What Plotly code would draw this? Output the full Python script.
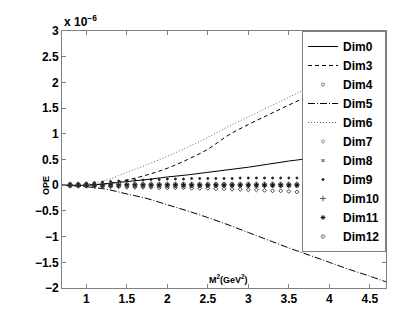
import plotly.graph_objects as go

# ---------------- data (OPE values in units of 1e-6) ----------------
m_line = [0.7, 1.0, 1.25, 1.5, 1.75, 2.0, 2.25, 2.5, 2.75, 3.0, 3.25, 3.5, 3.75, 4.0, 4.25, 4.5, 4.7]
dim0 = [0.0, 0.0, 0.03, 0.07, 0.11, 0.16, 0.20, 0.25, 0.30, 0.35, 0.41, 0.47, 0.52, 0.58, 0.64, 0.70, 0.75]
dim3 = [0.0, 0.0, 0.03, 0.10, 0.20, 0.33, 0.50, 0.70, 0.97, 1.18, 1.37, 1.56, 1.74, 1.92, 2.10, 2.27, 2.40]
dim5 = [0.0, -0.03, -0.08, -0.17, -0.26, -0.38, -0.50, -0.63, -0.77, -0.92, -1.07, -1.22, -1.36, -1.50, -1.64, -1.77, -1.88]
dim6 = [0.0, 0.02, 0.10, 0.25, 0.40, 0.56, 0.74, 0.93, 1.14, 1.33, 1.52, 1.71, 1.90, 2.09, 2.27, 2.45, 2.60]

m_pts = [0.8, 0.9, 1.0, 1.1, 1.2, 1.3, 1.4, 1.5, 1.6, 1.7,
         1.8, 1.9, 2.0, 2.1, 2.2, 2.3, 2.4, 2.5, 2.6, 2.7,
         2.8, 2.9, 3.0, 3.1, 3.2, 3.3, 3.4, 3.5, 3.6, 3.7,
         3.8, 3.9, 4.0, 4.1, 4.2, 4.3, 4.4, 4.5, 4.6, 4.7]
dim4 = [0.03, 0.03, 0.03, 0.03, 0.03, 0.03, 0.03, 0.03, 0.03, 0.03,
        0.03, 0.03, 0.03, 0.03, 0.03, 0.03, 0.03, 0.03, 0.03, 0.03,
        0.03, 0.03, 0.03, 0.03, 0.03, 0.03, 0.03, 0.03, 0.03, 0.03,
        0.03, 0.03, 0.03, 0.03, 0.03, 0.03, 0.03, 0.03, 0.03, 0.03]
dim7 = [-0.02, -0.02, -0.02, -0.02, -0.02, -0.02, -0.02, -0.02, -0.02, -0.02,
        -0.02, -0.02, -0.02, -0.02, -0.02, -0.02, -0.02, -0.02, -0.02, -0.02,
        -0.02, -0.02, -0.02, -0.02, -0.02, -0.02, -0.02, -0.02, -0.02, -0.02,
        -0.02, -0.02, -0.02, -0.02, -0.02, -0.02, -0.02, -0.02, -0.02, -0.02]
dim8 = [0.0, 0.0, 0.0, 0.0, 0.0, 0.0, 0.0, 0.0, 0.0, 0.0,
        0.0, 0.0, 0.0, 0.0, 0.0, 0.0, 0.0, 0.0, 0.0, 0.0,
        0.0, 0.0, 0.0, 0.0, 0.0, 0.0, 0.0, 0.0, 0.0, 0.0,
        0.0, 0.0, 0.0, 0.0, 0.0, 0.0, 0.0, 0.0, 0.0, 0.0]
dim9 = [0.02, 0.03, 0.04, 0.05, 0.06, 0.07, 0.08, 0.09, 0.10, 0.10,
        0.11, 0.11, 0.12, 0.12, 0.12, 0.13, 0.13, 0.13, 0.13, 0.13,
        0.13, 0.14, 0.14, 0.14, 0.14, 0.14, 0.14, 0.14, 0.14, 0.14,
        0.14, 0.14, 0.14, 0.14, 0.14, 0.14, 0.14, 0.14, 0.14, 0.14]
dim10 = [0.01, 0.01, 0.01, 0.01, 0.01, 0.01, 0.01, 0.01, 0.01, 0.01,
         0.01, 0.01, 0.01, 0.01, 0.01, 0.01, 0.01, 0.01, 0.01, 0.01,
         0.01, 0.01, 0.01, 0.01, 0.01, 0.01, 0.01, 0.01, 0.01, 0.01,
         0.01, 0.01, 0.01, 0.01, 0.01, 0.01, 0.01, 0.01, 0.01, 0.01]
dim11 = [0.0, 0.0, 0.0, 0.0, 0.0, 0.0, 0.0, 0.0, 0.0, 0.0,
         0.0, 0.0, 0.0, 0.0, 0.0, 0.0, 0.0, 0.0, 0.0, 0.0,
         0.0, 0.0, 0.0, 0.0, 0.0, 0.0, 0.0, 0.0, 0.0, 0.0,
         0.0, 0.0, 0.0, 0.0, 0.0, 0.0, 0.0, 0.0, 0.0, 0.0]
dim12 = [-0.02, -0.02, -0.02, -0.03, -0.03, -0.03, -0.03, -0.04, -0.04, -0.04,
         -0.04, -0.05, -0.05, -0.05, -0.05, -0.06, -0.06, -0.06, -0.07, -0.07,
         -0.08, -0.08, -0.09, -0.09, -0.10, -0.11, -0.11, -0.12, -0.13, -0.14,
         -0.15, -0.16, -0.17, -0.18, -0.19, -0.20, -0.21, -0.22, -0.24, -0.25]

x_ticks = [1, 1.5, 2, 2.5, 3, 3.5, 4, 4.5]
y_ticks = [-2, -1.5, -1, -0.5, 0, 0.5, 1, 1.5, 2, 2.5, 3]

# ---------------- figure ----------------
FONT = "Liberation Sans, Arial, Helvetica, sans-serif"
fig = go.Figure()


def add_line(name, ys, dash, color="black"):
    fig.add_trace(go.Scatter(x=m_line, y=ys, mode="lines", name=name,
                             line=dict(color=color, width=1, dash=dash, shape="spline")))


def add_markers(name, ys, sym, size, col):
    fig.add_trace(go.Scatter(x=m_pts, y=ys, mode="markers", name=name,
                             marker=dict(symbol=sym, size=size, color=col,
                                         line=dict(width=1, color=col))))


add_line("Dim0", dim0, "solid")
add_line("Dim3", dim3, "4px,3px")
add_markers("Dim4", dim4, "circle-open", 3, "#777777")
add_line("Dim5", dim5, "7px,2px,1px,2px")
add_line("Dim6", dim6, "1px,2px", "#666666")
add_markers("Dim7", dim7, "circle-open", 3, "#888888")
add_markers("Dim8", dim8, "x-thin-open", 3, "#333333")
add_markers("Dim9", dim9, "circle", 2, "#222222")
add_markers("Dim10", dim10, "cross-thin-open", 4, "#555555")
add_markers("Dim11", dim11, "asterisk-open", 4, "#111111")
add_markers("Dim12", dim12, "diamond-open", 3, "#444444")

axis_common = dict(
    showline=True, linecolor="#808080", linewidth=1, mirror="ticks",
    ticks="inside", ticklen=4, tickcolor="#808080", showgrid=False, zeroline=False,
    tickfont=dict(family=FONT, size=12, color="black", weight="bold"),
)
fig.update_xaxes(range=[0.7, 4.7], tickvals=x_ticks, **axis_common)
fig.update_yaxes(range=[-2, 3], tickvals=y_ticks, **axis_common)

fig.update_layout(
    width=417, height=316,
    margin=dict(l=54, r=39, t=23, b=36),
    paper_bgcolor="white", plot_bgcolor="white",
    showlegend=True,
    legend=dict(x=1, y=1, xanchor="right", yanchor="top",
                bgcolor="white", bordercolor="#808080", borderwidth=1,
                font=dict(family=FONT, size=12, color="black", weight="bold"),
                itemwidth=30, tracegroupgap=0),
    font=dict(family=FONT),
)

fig.add_annotation(xref="paper", yref="paper", x=0, y=1.0, xanchor="left", yanchor="bottom",
                   text="x 10<sup>−6</sup>", showarrow=False,
                   font=dict(family=FONT, size=12, color="black", weight="bold"))
fig.add_annotation(xref="paper", yref="y", x=-0.05, y=0, xanchor="center", yanchor="middle",
                   text="OPE", textangle=-90, showarrow=False,
                   font=dict(family=FONT, size=9, color="black", weight="bold"))
fig.add_annotation(xref="paper", yref="paper", x=0.515, y=0.005, xanchor="center", yanchor="bottom",
                   text="M<sup>2</sup>(GeV<sup>2</sup>)", showarrow=False,
                   font=dict(family=FONT, size=9, color="black", weight="bold"))

fig.write_html("out.html")
